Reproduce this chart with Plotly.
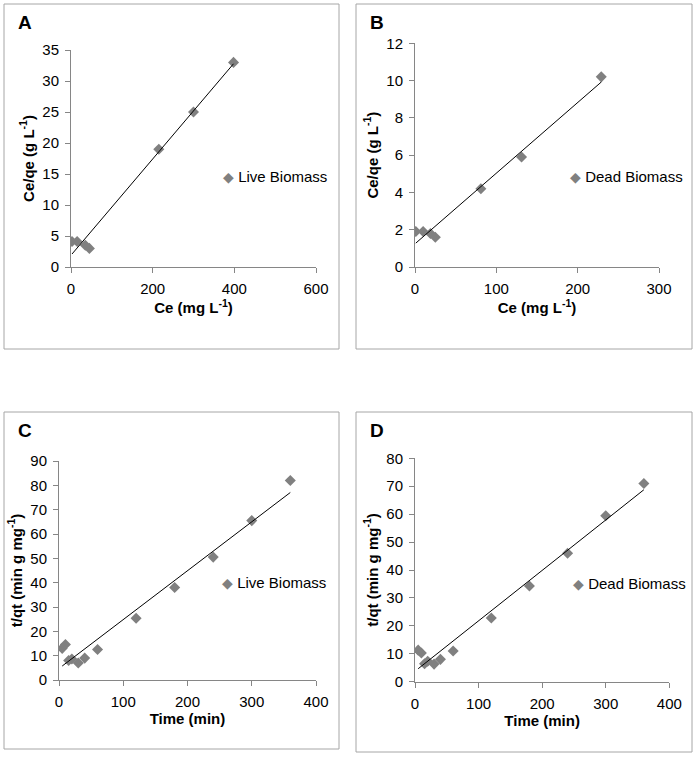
import numpy as np
import plotly.graph_objects as go

# Panel A - Langmuir, live biomass
ce_live = [2.5, 15, 35, 45, 215, 300, 398]
ceqe_live = [4.1, 4.1, 3.5, 3.0, 19.0, 25.0, 33.0]

# Panel B - Langmuir, dead biomass
ce_dead = [1, 10, 19, 25, 81, 131, 229]
ceqe_dead = [1.9, 1.9, 1.8, 1.6, 4.2, 5.9, 10.2]

# Panel C / D - pseudo second order kinetics
time_min = [5, 10, 15, 20, 30, 40, 60, 120, 180, 240, 300, 360]
tqt_live = [13.0, 14.6, 8.0, 8.6, 7.0, 9.0, 12.5, 25.4, 38.0, 50.5, 65.5, 82.0]
tqt_dead = [11.3, 10.3, 6.4, 7.3, 6.3, 8.0, 11.0, 22.8, 34.3, 46.0, 59.4, 71.0]

panel_letters = ["A", "B", "C", "D"]
legend_names = ["Live Biomass", "Dead Biomass", "Live Biomass", "Dead Biomass"]

FONT = "Liberation Sans, Arial, sans-serif"
W, H = 697, 759

panels = [
    (ce_live, ceqe_live, [0, 600], 200, [0, 35], 5),
    (ce_dead, ceqe_dead, [0, 300], 100, [0, 12], 2),
    (time_min, tqt_live, [0, 400], 100, [0, 90], 10),
    (time_min, tqt_dead, [0, 400], 100, [0, 80], 10),
]

# plot areas in pixels (left, right, top, bottom)
areas = [(71, 316, 50, 267), (415, 659, 43.3, 267),
         (59, 316, 461, 680), (415, 669.3, 458.3, 681.7)]
# panel boxes in pixels
boxes = [(4, 339, 4, 349), (356, 692, 4, 349),
         (4, 339, 412, 749), (356, 692, 412, 752)]

xtitles = ["<b>Ce (mg L<sup>-1</sup>)</b>", "<b>Ce (mg L<sup>-1</sup>)</b>",
           "<b>Time (min)</b>", "<b>Time (min)</b>"]
ytitles = ["<b>Ce/qe (g L<sup>-1</sup>)</b>", "<b>Ce/qe (g L<sup>-1</sup>)</b>",
           "<b>t/qt (min g mg<sup>-1</sup>)</b>", "<b>t/qt (min g mg<sup>-1</sup>)</b>"]

legend_pos = [(221, 176.7), (568, 176.7), (220, 582.7), (571, 583.3)]

fig = go.Figure()
layout = dict(width=W, height=H, margin=dict(l=0, r=0, t=0, b=0, autoexpand=False),
              paper_bgcolor="white", plot_bgcolor="white", showlegend=False,
              font=dict(family=FONT, size=15, color="#000000"))
shapes = []
annotations = []

for i, (xs, ys, xr, dx, yr, dy) in enumerate(panels):
    n = "" if i == 0 else str(i + 1)
    xa, ya = "x" + n, "y" + n
    # data points
    fig.add_trace(go.Scatter(x=xs, y=ys, mode="markers", xaxis=xa, yaxis=ya,
                             marker=dict(symbol="diamond", size=8.5, color="#808080",
                                         line=dict(width=0))))
    # linear trendline
    k, b = np.polyfit(xs, ys, 1)
    xl = np.array([min(xs), max(xs)])
    fig.add_trace(go.Scatter(x=xl, y=k * xl + b, mode="lines", xaxis=xa, yaxis=ya,
                             line=dict(color="black", width=1)))

    l, r, t, bt = areas[i]
    axis_common = dict(showline=True, linecolor="#868686", linewidth=1,
                       ticks="outside", ticklen=5, tickcolor="#868686",
                       showgrid=False, zeroline=False, ticklabelstandoff=3,
                       automargin=False, tickfont=dict(size=15, color="#000000"))
    layout["xaxis" + n] = dict(axis_common, domain=[l / W, r / W], range=xr, dtick=dx,
                               anchor=ya, title=dict(text=xtitles[i], font=dict(size=15), standoff=4))
    layout["yaxis" + n] = dict(axis_common, domain=[1 - bt / H, 1 - t / H], range=yr, dtick=dy,
                               anchor=xa, title=dict(text=ytitles[i], font=dict(size=15), standoff=4))

    bl, br, btp, bb = boxes[i]
    shapes.append(dict(type="rect", xref="paper", yref="paper",
                       x0=bl / W, x1=br / W, y0=1 - bb / H, y1=1 - btp / H,
                       line=dict(color="#a6a6a6", width=1)))
    annotations.append(dict(text="<b>" + panel_letters[i] + "</b>", xref="paper", yref="paper",
                            x=(bl + 12) / W, y=1 - (btp + 18) / H, xanchor="left", yanchor="middle",
                            showarrow=False, font=dict(size=19, color="black")))
    lx, ly = legend_pos[i]
    annotations.append(dict(text="<span style='color:#808080;font-size:14px'>◆</span> " + legend_names[i],
                            xref="paper", yref="paper", x=lx / W, y=1 - ly / H,
                            xanchor="left", yanchor="middle", showarrow=False,
                            font=dict(size=15, color="black")))

layout["shapes"] = shapes
layout["annotations"] = annotations
fig.update_layout(**layout)
# page body margin would shift the figure by 8px
fig.write_html("out.html", config={"displayModeBar": False},
               post_script="document.body.style.margin='0';")
